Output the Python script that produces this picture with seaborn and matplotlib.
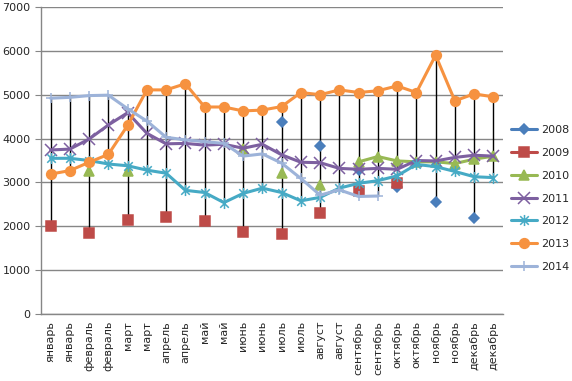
import numpy as np
import pandas as pd
import matplotlib
matplotlib.use("Agg")
import matplotlib.pyplot as plt
from matplotlib.lines import Line2D
from matplotlib.path import Path
import seaborn as sns

nan = np.nan

# category labels (each month appears twice)
labels = ["январь", "январь", "февраль", "февраль", "март", "март",
          "апрель", "апрель", "май", "май", "июнь", "июнь",
          "июль", "июль", "август", "август", "сентябрь", "сентябрь",
          "октябрь", "октябрь", "ноябрь", "ноябрь", "декабрь", "декабрь"]

years = ["2008", "2009", "2010", "2011", "2012", "2013", "2014"]

y2008 = [nan, nan, nan, nan, nan, nan, nan, nan, nan, nan, nan, nan,
         4380, nan, 3830, nan, 3280, nan, 2890, nan, 2560, nan, 2200, nan]
y2009 = [2010, nan, 1840, nan, 2140, nan, 2220, nan, 2130, nan, 1880, nan,
         1820, nan, 2300, nan, 2810, nan, 2990, nan, nan, nan, nan, nan]
y2010 = [nan, nan, 3260, nan, 3260, nan, nan, nan, nan, nan, 3760, nan,
         3220, nan, 2930, nan, 3470, 3590, 3490, 3470, 3470, 3430, 3530, 3600]
y2011 = [3740, 3760, 3990, 4310, 4590, 4120, 3880, 3890, 3850, 3870, 3780, 3870,
         3630, 3460, 3450, 3320, 3300, 3320, 3300, 3500, 3490, 3570, 3620, 3600]
y2012 = [3550, 3550, 3500, 3420, 3380, 3280, 3210, 2820, 2770, 2540, 2750, 2870,
         2770, 2580, 2660, 2870, 2980, 3040, 3150, 3410, 3360, 3250, 3130, 3110]
y2013 = [3190, 3270, 3460, 3640, 4300, 5110, 5110, 5250, 4720, 4720, 4630, 4650,
         4730, 5050, 5000, 5110, 5050, 5090, 5200, 5050, 5900, 4860, 5020, 4950]
y2014 = [4920, 4940, 4980, 4990, 4680, 4400, 4030, 3970, 3930, 3890, 3600, 3650,
         3440, 3090, 2710, 2830, 2680, 2690, nan, nan, nan, nan, nan, nan]

series = [y2008, y2009, y2010, y2011, y2012, y2013, y2014]
colors = ["#4A7EBB", "#BE4B48", "#98B954", "#7D60A0", "#46AAC5", "#F69240", "#9DB3D9"]

# excel-style asterisk: an x with a vertical stroke
star = Path([(-1, -1), (1, 1), (-1, 1), (1, -1), (0, -1.3), (0, 1.3)],
            [Path.MOVETO, Path.LINETO, Path.MOVETO, Path.LINETO, Path.MOVETO, Path.LINETO])
markers = ["D", "s", "^", "x", star, "o", "+"]
msizes = [5.5, 7, 7, 8, 8, 7, 7]

# long table, with a segment id so gaps are not bridged
rows = []
for yr, vals in zip(years, series):
    seg = 0
    prev_nan = True
    for i, v in enumerate(vals):
        if np.isnan(v):
            prev_nan = True
            continue
        if prev_nan:
            seg += 1
        prev_nan = False
        rows.append({"year": yr, "pos": i, "value": v, "seg": seg})
df = pd.DataFrame(rows)

sns.set_style("white")
plt.rcParams["font.family"] = ["DejaVu Sans"]

fig, ax = plt.subplots(figsize=(5.72, 3.81), dpi=100)
fig.subplots_adjust(left=41 / 572, right=503 / 572, top=1 - 7 / 381, bottom=1 - 314 / 381)

# high-low lines
arr = np.array(series, dtype=float)
hi = np.nanmax(arr, axis=0)
lo = np.nanmin(arr, axis=0)
ax.vlines(np.arange(len(labels)), lo, hi, color="black", lw=1, zorder=1.5)

for yr, c, m, ms in zip(years, colors, markers, msizes):
    sub = df[df["year"] == yr]
    sns.lineplot(data=sub, x="pos", y="value", units="seg", estimator=None,
                 color=c, marker=m, markersize=ms, markeredgecolor=c,
                 markerfacecolor=c, markeredgewidth=1.1, lw=2.2,
                 ax=ax, legend=False, zorder=3)

ax.set_xlim(-0.5, len(labels) - 0.5)
ax.set_ylim(0, 7000)
ax.set_yticks(range(0, 7001, 1000))
ax.set_xticks(range(len(labels)))
ax.set_xticklabels(labels, rotation=90, fontsize=8)
ax.tick_params(axis="y", labelsize=8, length=4, color="#868686", direction="out", left=True)
ax.tick_params(axis="x", length=0, pad=5)
ax.set_xlabel("")
ax.set_ylabel("")
ax.yaxis.grid(True, color="#868686", lw=1)
ax.set_axisbelow(True)
for s in ["top", "right"]:
    ax.spines[s].set_visible(False)
for s in ["left", "bottom"]:
    ax.spines[s].set_color("#868686")
    ax.spines[s].set_linewidth(1)

handles = [Line2D([], [], color=c, marker=m, markersize=ms, markeredgecolor=c,
                  markeredgewidth=1.1, lw=2.2)
           for c, m, ms in zip(colors, markers, msizes)]
fig.legend(handles, years, loc="center left", bbox_to_anchor=(0.893, 0.479),
           frameon=False, fontsize=8, handlelength=2.4, labelspacing=1.15,
           handletextpad=0.3, borderpad=0, borderaxespad=0)

fig.savefig("out.png", dpi=100)
